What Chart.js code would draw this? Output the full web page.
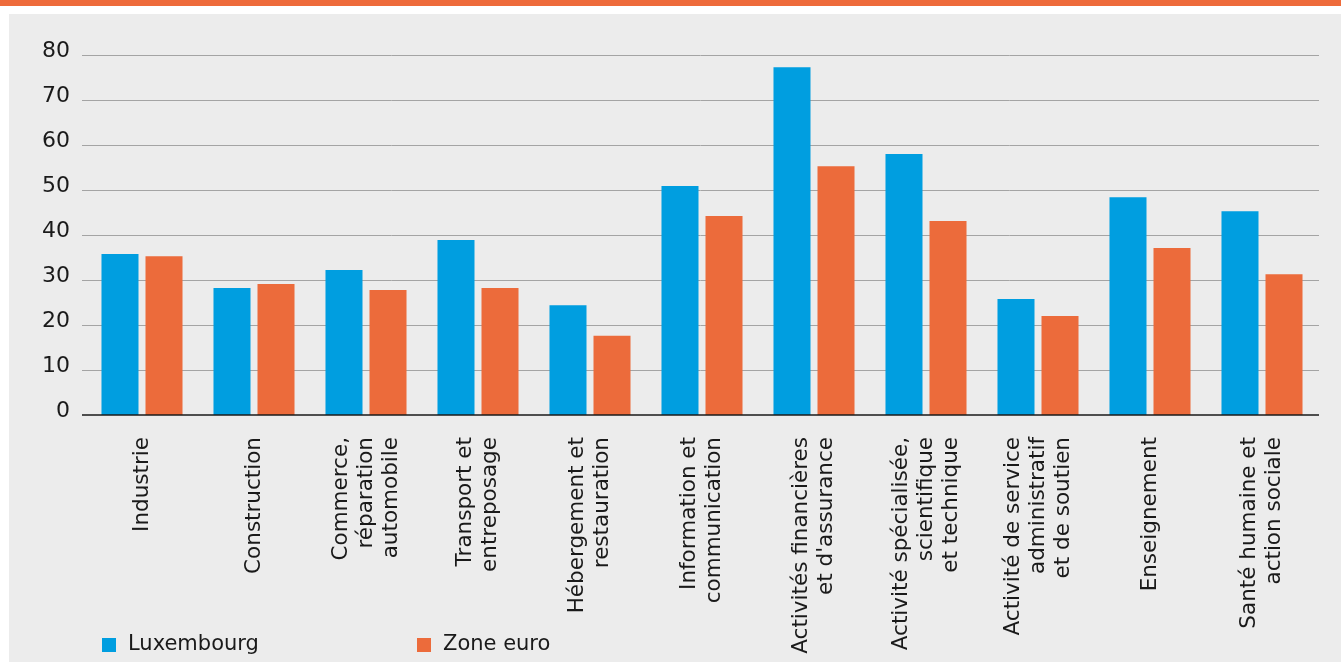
<!DOCTYPE html>
<html>
<head>
<meta charset="utf-8">
<script src="https://cdn.jsdelivr.net/npm/chart.js@4.4.0/dist/chart.umd.min.js"></script>
<style>
  html, body { margin: 0; padding: 0; background: #fff; }
  body { width: 1341px; height: 662px; position: relative; overflow: hidden; }
  .band { position: absolute; left: 0; top: 0; width: 1341px; height: 6px; background: #ee6b3b; }
  .panel { position: absolute; left: 9px; top: 14px; width: 1332px; height: 648px; background: #ececec; }
  #chart { position: absolute; left: 0; top: 0; }
</style>
</head>
<body>
<div class="band"></div>
<div class="panel"></div>
<canvas id="chart" width="1341" height="662"></canvas>
<script>
// Data
const categories = [
  ['Industrie'],
  ['Construction'],
  ['Commerce,', 'réparation', 'automobile'],
  ['Transport et', 'entreposage'],
  ['Hébergement et', 'restauration'],
  ['Information et', 'communication'],
  ['Activités financières', "et d'assurance"],
  ['Activité spécialisée,', 'scientifique', 'et technique'],
  ['Activité de service', 'administratif', 'et de soutien'],
  ['Enseignement'],
  ['Santé humaine et', 'action sociale']
];
const luxembourg = [35.8, 28.2, 32.2, 38.9, 24.4, 50.9, 77.3, 58.0, 25.8, 48.4, 45.3];
const zoneEuro = [35.3, 29.1, 27.8, 28.2, 17.6, 44.2, 55.3, 43.1, 22.0, 37.1, 31.3];
const seriesNames = ['Luxembourg', 'Zone euro'];
const yTicks = [0, 10, 20, 30, 40, 50, 60, 70, 80];

const blue = '#009ee0';
const orange = '#ec6b3b';
const textColor = '#1a1a1a';
const fontFamily = '"DejaVu Sans", sans-serif';

// grid lines, zero line, rotated category labels and legend
const decor = {
  id: 'decor',
  beforeDatasetsDraw(chart) {
    const ctx = chart.ctx;
    const y = chart.scales.y;
    const area = chart.chartArea;
    ctx.save();
    ctx.strokeStyle = '#a4a4a4';
    ctx.lineWidth = 1;
    yTicks.forEach(v => {
      if (v === 0) return;
      const py = Math.round(y.getPixelForValue(v)) + 0.5;
      ctx.beginPath();
      ctx.moveTo(82, py);
      ctx.lineTo(area.right + 1, py);
      ctx.stroke();
    });
    ctx.restore();
  },
  afterDatasetsDraw(chart) {
    const ctx = chart.ctx;
    const y = chart.scales.y;
    const x = chart.scales.x;
    const area = chart.chartArea;
    ctx.save();
    ctx.strokeStyle = textColor;
    ctx.lineWidth = 1.6;
    const py0 = y.getPixelForValue(0);
    ctx.beginPath();
    ctx.moveTo(82, py0);
    ctx.lineTo(area.right + 1, py0);
    ctx.stroke();

    // category labels, rotated, lines centred on the tick
    ctx.fillStyle = textColor;
    ctx.font = '21.5px ' + fontFamily;
    ctx.textAlign = 'right';
    ctx.textBaseline = 'middle';
    const lineH = 25;
    categories.forEach((lines, i) => {
      const px = x.getPixelForTick(i);
      ctx.save();
      ctx.translate(px, py0 + 22);
      ctx.rotate(-Math.PI / 2);
      lines.forEach((t, j) => {
        ctx.fillText(t, 0, (j - (lines.length - 1) / 2) * lineH);
      });
      ctx.restore();
    });

    // legend
    ctx.font = '21px ' + fontFamily;
    const legendX = [102, 417];
    chart.data.datasets.forEach((ds, i) => {
      ctx.fillStyle = ds.backgroundColor;
      ctx.fillRect(legendX[i], 638, 14, 14);
      ctx.fillStyle = textColor;
      ctx.textAlign = 'left';
      ctx.fillText(ds.label, legendX[i] + 26, 645);
    });
    ctx.restore();
  }
};

new Chart(document.getElementById('chart'), {
  type: 'bar',
  data: {
    labels: categories,
    datasets: [
      { label: seriesNames[0], data: luxembourg, backgroundColor: blue },
      { label: seriesNames[1], data: zoneEuro, backgroundColor: orange }
    ]
  },
  options: {
    responsive: false,
    animation: false,
    layout: { padding: { top: 55, right: 23, left: 0, bottom: 0 } },
    datasets: { bar: { categoryPercentage: 0.786, barPercentage: 0.841 } },
    plugins: {
      legend: { display: false },
      tooltip: { enabled: false }
    },
    scales: {
      x: {
        ticks: { display: false },
        grid: { display: false },
        border: { display: false },
        afterFit: s => { s.height = 247; }
      },
      y: {
        min: 0,
        max: 80,
        afterBuildTicks: s => { s.ticks = yTicks.map(v => ({ value: v })); },
        afterFit: s => { s.width = 86; },
        grid: { display: false, tickLength: 0 },
        border: { display: false },
        ticks: {
          padding: 16,
          labelOffset: -4,
          color: textColor,
          font: { family: fontFamily, size: 22 }
        }
      }
    }
  },
  plugins: [decor]
});
</script>
</body>
</html>
